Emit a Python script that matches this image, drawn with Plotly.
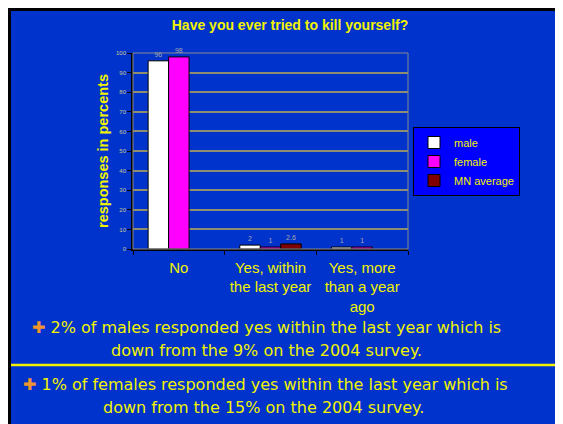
import plotly.graph_objects as go

categories = ['No', 'Yes, within<br>the last year', 'Yes, more<br>than a year<br>ago']
male = [96, 2, 1]
female = [98, 1, 1]
mn_average = [None, 2.6, None]
y_ticks = list(range(0, 101, 10))

# the page body has an 8px margin, so the figure is drawn 8px in from the window corner
OFF = 8
WIN_W, WIN_H = 563, 424
W, H = WIN_W - OFF, WIN_H - OFF
# plot area edges in window pixels
L, R, T, B = 133, 408, 53, 249

YELLOW = '#F2F200'
SLIDE_BLUE = '#0033CC'


def px(x):
    return (x - L) / (R - L)


def py(y):
    return (B - y) / (B - T)


def labels(vals):
    return ['' if v is None else str(v) for v in vals]


bar_text = dict(size=7, color='#A9A9A9', family='Liberation Sans')

fig = go.Figure()
fig.add_trace(go.Bar(name='male', x=categories, y=male, text=labels(male),
                     marker=dict(color='white', line=dict(color='black', width=1)),
                     textposition='outside', textfont=bar_text, cliponaxis=False))
fig.add_trace(go.Bar(name='female', x=categories, y=female, text=labels(female),
                     marker=dict(color='#FF00FF', line=dict(color='black', width=1)),
                     textposition='outside', textfont=bar_text, cliponaxis=False))
fig.add_trace(go.Bar(name='MN average', x=categories, y=mn_average, text=labels(mn_average),
                     marker=dict(color='#800000', line=dict(color='black', width=1)),
                     textposition='outside', textfont=bar_text, cliponaxis=False))

shapes = [
    # black frame, blue slide
    dict(type='rect', xref='paper', yref='paper', x0=px(OFF), x1=px(WIN_W + 5),
         y0=py(WIN_H + 5), y1=py(OFF), fillcolor='black', line_width=0, layer='below'),
    dict(type='rect', xref='paper', yref='paper', x0=px(OFF + 3), x1=px(WIN_W + 5),
         y0=py(WIN_H + 5), y1=py(OFF + 3), fillcolor=SLIDE_BLUE, line_width=0, layer='below'),
    # plot frame
    dict(type='rect', xref='paper', yref='paper', x0=0, x1=1, y0=0, y1=1,
         line=dict(color='#8C8C8C', width=1)),
    # separator between bullets
    dict(type='line', xref='paper', yref='paper', x0=px(OFF + 3), x1=px(WIN_W + 5),
         y0=py(365), y1=py(365), line=dict(color=YELLOW, width=2.5)),
]

bullet = "<span style='color:#EE9530'>✚</span> "
text_font = dict(family='DejaVu Sans', size=16, color=YELLOW)
annotations = [
    dict(text=bullet + '2% of males responded yes within the last year which is',
         x=px(266), y=py(327)),
    dict(text='down from the 9% on the 2004 survey.', x=px(266), y=py(350)),
    dict(text=bullet + '1% of females responded yes within the last year which is',
         x=px(265), y=py(384)),
    dict(text='down from the 15% on the 2004 survey.', x=px(263), y=py(407)),
]
for a in annotations:
    a.update(xref='paper', yref='paper', showarrow=False, font=text_font,
             xanchor='center', yanchor='middle')

fig.update_layout(
    width=W, height=H, autosize=False,
    margin=dict(l=L - OFF, r=WIN_W - R, t=T - OFF, b=WIN_H - B, pad=0, autoexpand=False),
    paper_bgcolor='white',
    plot_bgcolor='#0000FF',
    barmode='group', bargap=0.33, bargroupgap=0,
    title=dict(text='<b>Have you ever tried to kill yourself?</b>',
               x=(290 - OFF) / W, xanchor='center',
               y=1 - (25 - OFF) / H, yanchor='middle',
               font=dict(family='Liberation Sans', size=14, color=YELLOW)),
    xaxis=dict(showline=True, linecolor='black', linewidth=1.5, automargin=False,
               ticks='outside', tickson='boundaries', ticklen=4, tickcolor='black',
               ticklabelstandoff=4,
               tickfont=dict(family='Liberation Sans', size=15, color=YELLOW)),
    yaxis=dict(range=[0, 100], tickvals=y_ticks, showline=True, linecolor='black',
               linewidth=1.5, ticks='outside', ticklen=4, tickcolor='black',
               gridcolor='#8E8E70', gridwidth=1.5, zeroline=False, automargin=False,
               tickfont=dict(family='Liberation Sans', size=6, color='#C8C890'),
               title=dict(text='<b>responses in percents</b>', standoff=4,
                          font=dict(family='Liberation Sans', size=14.5, color=YELLOW))),
    legend=dict(x=px(413), y=py(127), xanchor='left', yanchor='top',
                bgcolor='#0000FF', bordercolor='black', borderwidth=1,
                font=dict(family='Liberation Sans', size=11, color=YELLOW),
                tracegroupgap=0, itemwidth=30),
    shapes=shapes,
    annotations=annotations,
)

fig.write_html('out.html')
